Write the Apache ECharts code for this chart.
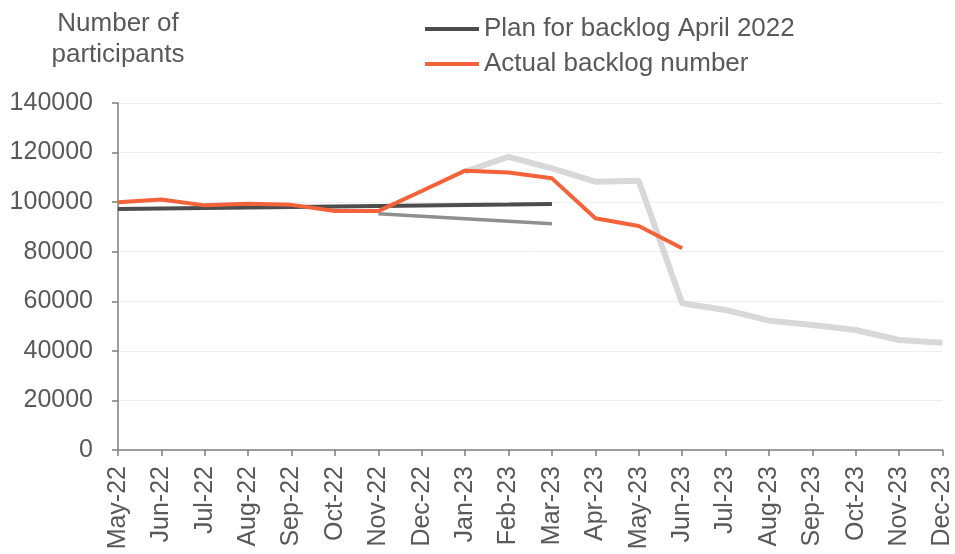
<!DOCTYPE html>
<html>
<head>
<meta charset="utf-8">
<script src="https://cdn.jsdelivr.net/npm/echarts@6/dist/echarts.min.js"></script>
<style>
  html, body { margin: 0; padding: 0; background: #fff; }
  #chart { width: 955px; height: 554px; }
</style>
</head>
<body>
<div id="chart"></div>
<script>
// 月份
const months = ['May-22', 'Jun-22', 'Jul-22', 'Aug-22', 'Sep-22', 'Oct-22', 'Nov-22', 'Dec-22',
  'Jan-23', 'Feb-23', 'Mar-23', 'Apr-23', 'May-23', 'Jun-23', 'Jul-23', 'Aug-23',
  'Sep-23', 'Oct-23', 'Nov-23', 'Dec-23'];

// 计划值 (May-22 到 Mar-23)
const planValues = [97200, 97400, 97600, 97800, 98000, 98200, 98400, 98600, 98800, 99000, 99250,
  null, null, null, null, null, null, null, null, null];

// 实际值
const actualValues = [100000, 101100, 98700, 99400, 98900, 96400, 96400, 104500, 112700, 112000, 109600,
  93500, 90400, 81400, null, null, null, null, null, null];

// 灰色线 (Nov-22 到 Mar-23)
const greyValues = [null, null, null, null, null, null, 95300, 94300, 93300, 92300, 91300,
  null, null, null, null, null, null, null, null, null];

// 浅灰色线 (Jan-23 到 Dec-23)
const lightValues = [null, null, null, null, null, null, null, null, 112300, 118300, 113600,
  108250, 108650, 59200, 56500, 52200, 50400, 48400, 44400, 43300];

const yTicks = { min: 0, max: 140000, interval: 20000 };

const textColor = '#595959';
const font = 'Liberation Sans';
const chart = echarts.init(document.getElementById('chart'));

const option = {
  animation: false,
  grid: { left: 118, right: 11, top: 103, bottom: 104 },
  legend: {
    data: ['Plan for backlog April 2022', 'Actual backlog number'],
    orient: 'vertical',
    left: 420,
    top: 11,
    itemWidth: 54,
    itemHeight: 4,
    itemGap: 9,
    icon: 'rect',
    textStyle: { color: textColor, fontSize: 26, fontFamily: font }
  },
  xAxis: {
    type: 'category',
    data: months,
    boundaryGap: false,
    axisLine: { lineStyle: { color: '#7f7f7f', width: 1.5 } },
    axisTick: { show: true, alignWithLabel: true, length: 6, lineStyle: { color: '#7f7f7f', width: 1.5 } },
    axisLabel: {
      rotate: 90,
      interval: 0,
      color: textColor,
      fontSize: 25,
      fontFamily: font,
      margin: 16
    },
    splitLine: { show: false }
  },
  yAxis: {
    type: 'value',
    min: yTicks.min,
    max: yTicks.max,
    interval: yTicks.interval,
    name: 'Number of\nparticipants',
    nameLocation: 'end',
    nameGap: 33,
    nameTextStyle: { color: textColor, fontSize: 26, fontFamily: font, align: 'center', lineHeight: 31 },
    axisLine: { show: true, lineStyle: { color: '#7f7f7f', width: 1.5 } },
    axisTick: { show: true, length: 6, lineStyle: { color: '#7f7f7f', width: 1.5 } },
    axisLabel: { color: textColor, fontSize: 25, fontFamily: font, margin: 25, formatter: v => String(v) },
    splitLine: { show: true, lineStyle: { color: '#eeeeee', width: 1 } }
  },
  series: [
    {
      name: 'Light',
      type: 'line',
      data: lightValues,
      symbol: 'none',
      lineStyle: { color: '#d9d7d7', width: 6 },
      itemStyle: { color: '#d9d7d7' },
      z: 1
    },
    {
      name: 'Grey',
      type: 'line',
      data: greyValues,
      symbol: 'none',
      lineStyle: { color: '#8f8f8f', width: 3.5 },
      itemStyle: { color: '#8f8f8f' },
      z: 2
    },
    {
      name: 'Plan for backlog April 2022',
      type: 'line',
      data: planValues,
      symbol: 'none',
      lineStyle: { color: '#4d4d4d', width: 4 },
      itemStyle: { color: '#4d4d4d' },
      z: 3
    },
    {
      name: 'Actual backlog number',
      type: 'line',
      data: actualValues,
      symbol: 'none',
      lineStyle: { color: '#f4623a', width: 4 },
      itemStyle: { color: '#f4623a' },
      z: 4
    }
  ]
};

chart.setOption(option);
</script>
</body>
</html>
